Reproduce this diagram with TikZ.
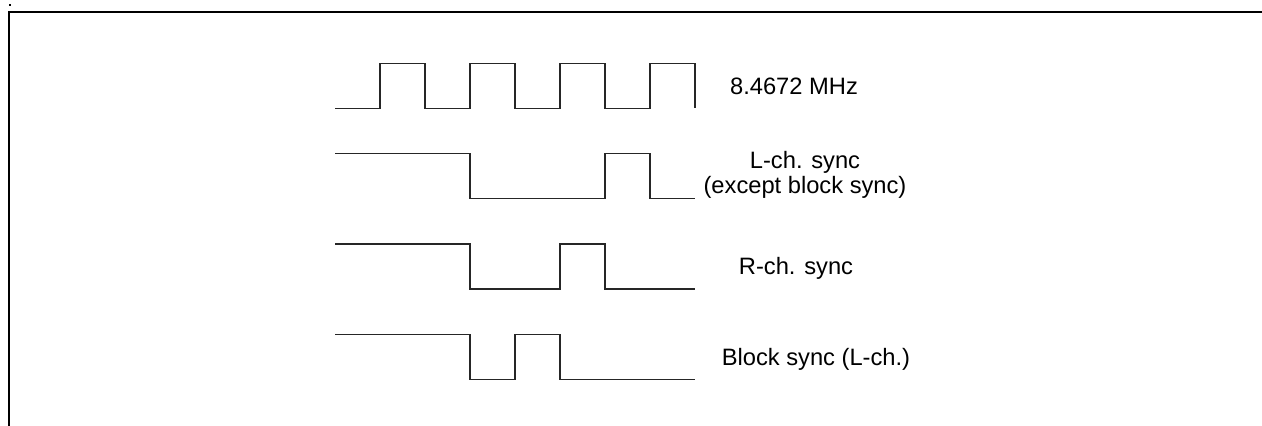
\documentclass[tikz,border=0pt]{standalone}
\usepackage{fontspec}
\setmainfont{Liberation Sans}
\usetikzlibrary{positioning}
\tikzset{
    wave/.style={ % Sets the look of every signal trace
        line width=1.3pt,
        line join=miter,
        black!85
    },
    frame/.style={line width=2pt}, % Page frame top and left
    sig/.style={ % Signal names
        font=\fontsize{23.7}{25}\selectfont,
        anchor=base,
        align=center,
        inner sep=0pt
    }
}
\begin{document}
\begin{tikzpicture}[x=1pt, y=-1pt]
            \useasboundingbox (0,0) rectangle (1262,426);
            \fill (9,4) rectangle (11,6);
            \draw[frame] (8.5,426) -- (8.5,12.3) -- (1262,12.3);

            % clock, 4 periods
            \draw[wave] (335,108.3) foreach \i in {1,...,4} { -- ++(45,0) -- ++(0,-45) -- ++(45,0) -- ++(0,45) };
            \draw[wave] (335,153.3) -- (470,153.3) -- (470,198.3) -- (605,198.3) -- (605,153.3) -- (650,153.3) -- (650,198.3) -- (695,198.3);
            \draw[wave] (335,244) -- (470,244) -- (470,289) -- (560,289) -- (560,244) -- (605,244) -- (605,289) -- (695,289);
            \draw[wave] (335,334.3) -- (470,334.3) -- (470,379.3) -- (515,379.3) -- (515,334.3) -- (560,334.3) -- (560,379.3) -- (695,379.3);

            \node[sig] (clk) at (794,94.3) {8.4672 MHz};
            \node[sig] (lsync) at (805,193.3) {L-ch. sync\\(except block sync)};
            \node[sig] (rsync) at (796,274.3) {R-ch. sync};
            \node[sig] (bsync) at (816,365) {Block sync (L-ch.)};
        \end{tikzpicture}
\end{document}
